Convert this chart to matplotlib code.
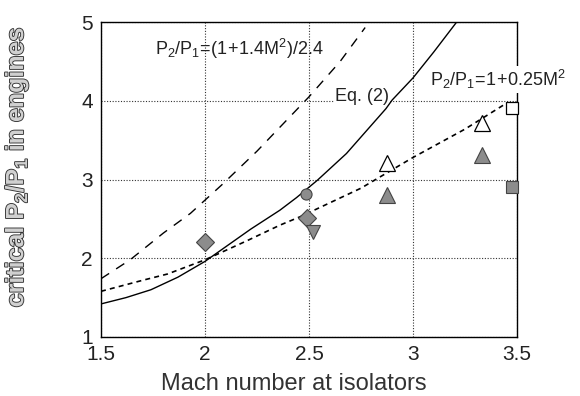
import matplotlib
matplotlib.use("Agg")
import matplotlib.pyplot as plt
import matplotlib.patheffects as pe

plt.rcParams['font.family'] = ['Liberation Sans', 'DejaVu Sans']
plt.rcParams['mathtext.fontset'] = 'custom'
plt.rcParams['mathtext.rm'] = 'Liberation Sans'
plt.rcParams['mathtext.it'] = 'Liberation Sans'

# ---- data ----
dashed_M = [1.5, 1.64, 1.80, 1.93, 2.08, 2.25, 2.50, 2.65, 2.77]
dashed_P = [1.74, 1.98, 2.32, 2.57, 2.93, 3.36, 4.05, 4.50, 4.93]

eq2_M = [1.5, 1.62, 1.74, 1.87, 2.0, 2.22, 2.36, 2.44, 2.54, 2.68, 2.87, 2.90, 3.0, 3.1, 3.21]
eq2_P = [1.42, 1.50, 1.60, 1.76, 1.96, 2.37, 2.61, 2.77, 2.99, 3.33, 3.90, 4.01, 4.29, 4.62, 5.0]

dotted_M = [1.5, 1.70, 1.82, 2.0, 2.20, 2.36, 2.46, 2.75, 3.0, 3.25, 3.45]
dotted_P = [1.58, 1.72, 1.80, 1.98, 2.22, 2.42, 2.53, 2.89, 3.28, 3.64, 3.97]

diamond_M = [2.0, 2.49]
diamond_P = [2.21, 2.51]
circle_M = [2.486]
circle_P = [2.81]
vtri_M = [2.52]
vtri_P = [2.33]
open_tri_M = [2.875, 3.33]
open_tri_P = [3.21, 3.72]
fill_tri_M = [2.875, 3.33]
fill_tri_P = [2.80, 3.31]
open_sq_M = [3.476]
open_sq_P = [3.91]
fill_sq_M = [3.476]
fill_sq_P = [2.90]

xticks = [1.5, 2, 2.5, 3, 3.5]
xtick_labels = ['1.5', '2', '2.5', '3', '3.5']
yticks = [1, 2, 3, 4, 5]
ytick_labels = ['1', '2', '3', '4', '5']

fig = plt.figure(figsize=(5.8, 3.96), dpi=100)
ax = fig.add_axes([0.1741, 0.149, 0.8914 - 0.1741, 0.9444 - 0.149])

ax.plot(dashed_M, dashed_P, color='black', lw=1.0, dashes=(7, 6), zorder=2)
ax.plot(eq2_M, eq2_P, color='black', lw=1.0, zorder=2)
ax.plot(dotted_M, dotted_P, color='black', lw=1.2, dashes=(3, 2.5), zorder=2)

gray = '#8c8c8c'
edge = '#444444'
ax.plot(diamond_M, diamond_P, 'D', ms=9, mfc=gray, mec=edge, mew=0.8, zorder=4)
ax.plot(circle_M, circle_P, 'o', ms=8, mfc=gray, mec=edge, mew=0.8, zorder=4)
ax.plot(vtri_M, vtri_P, 'v', ms=10, mfc=gray, mec=edge, mew=0.8, zorder=4)
ax.plot(open_tri_M, open_tri_P, '^', ms=12, mfc='white', mec='black', mew=0.9, zorder=4)
ax.plot(fill_tri_M, fill_tri_P, '^', ms=11, mfc=gray, mec=edge, mew=0.8, zorder=4)
ax.plot(open_sq_M, open_sq_P, 's', ms=9, mfc='white', mec='black', mew=0.9, zorder=4, clip_on=False)
ax.plot(fill_sq_M, fill_sq_P, 's', ms=9, mfc=gray, mec=edge, mew=0.8, zorder=4, clip_on=False)

ax.text(1.76, 4.58, r'$\mathregular{P_2/P_1\!=\!(1\!+\!1.4M^2)/2.4}$', fontsize=13,
        ha='left', va='baseline', color='#222222')
ax.text(3.08, 4.19, r'$\mathregular{P_2/P_1\!=\!1\!+\!0.25M^2}$', fontsize=13,
        ha='left', va='baseline', color='#222222', clip_on=False, zorder=3,
        bbox=dict(facecolor='white', edgecolor='none', pad=1.5))
ax.text(2.625, 4.0, 'Eq. (2)', fontsize=13, ha='left', va='baseline', color='#222222',
        zorder=1.8, bbox=dict(facecolor='white', edgecolor='none', pad=0.5))

ax.set_xlim(1.5, 3.5)
ax.set_ylim(1, 5)
ax.set_xticks(xticks)
ax.set_xticklabels(xtick_labels)
ax.set_yticks(yticks)
ax.set_yticklabels(ytick_labels)
ax.tick_params(direction='in', length=0, labelsize=15, pad=6, colors='#222222')
ax.grid(True, linestyle=(0, (1, 1.5)), color='#333333', lw=0.8)
for s in ax.spines.values():
    s.set_linewidth(1.0)
    s.set_color('black')

ax.set_xlabel('Mach number at isolators', fontsize=17, color='#333333')
ax.xaxis.set_label_coords(0.464, -0.115)
ax.set_ylabel(r'critical $\mathregular{P_2/P_1}$ in engines', fontsize=18, fontweight='bold',
              color='#d0d0d0',
              path_effects=[pe.withStroke(linewidth=1.3, foreground='#333333')])
ax.yaxis.set_label_coords(-0.17, 0.54)

fig.savefig('out.png', dpi=100)
